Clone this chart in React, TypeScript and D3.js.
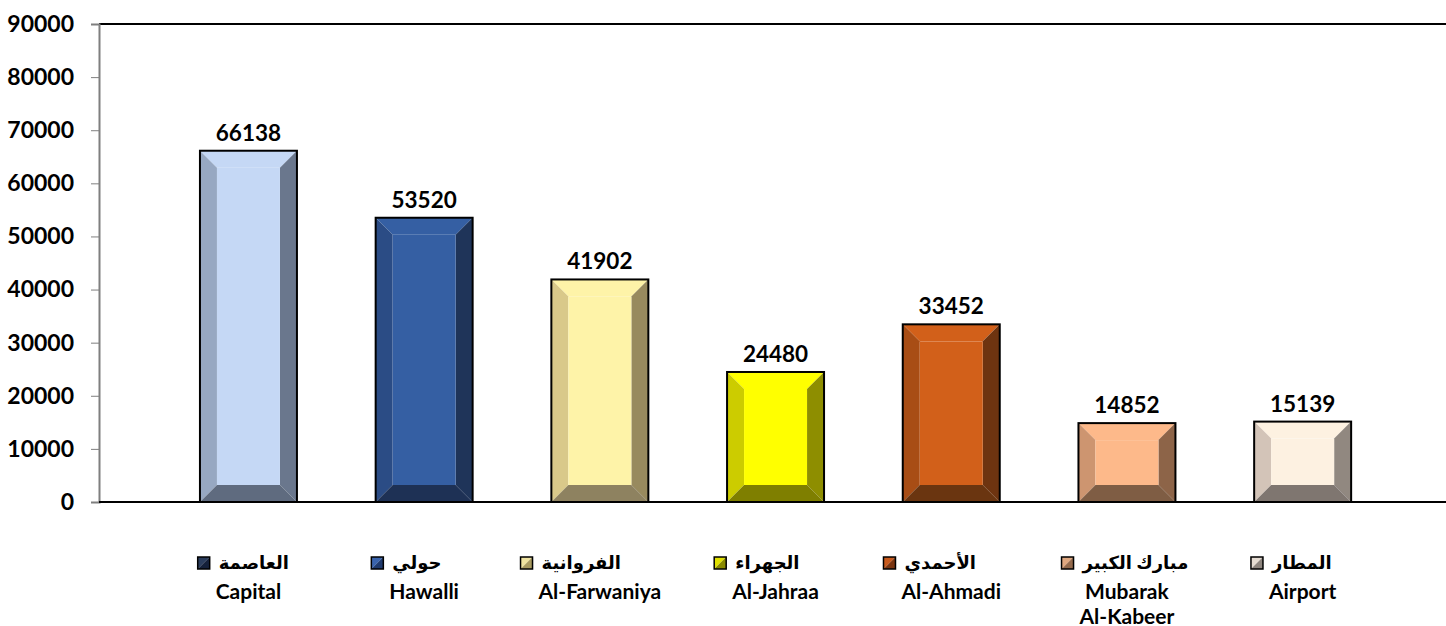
import { useRef, useEffect } from 'react';
import * as d3 from 'd3';

const categoriesEn = [['Capital'], ['Hawalli'], ['Al-Farwaniya'], ['Al-Jahraa'], ['Al-Ahmadi'], ['Mubarak', 'Al-Kabeer'], ['Airport']];
const categoriesAr = ['العاصمة', 'حولي', 'الفروانية', 'الجهراء', 'الأحمدي', 'مبارك الكبير', 'المطار'];
const values = [66138, 53520, 41902, 24480, 33452, 14852, 15139];
const yTicks = [0, 10000, 20000, 30000, 40000, 50000, 60000, 70000, 80000, 90000];

// face, left bevel, right bevel, bottom bevel
const shades = [
  ['#c5d8f5', '#97a8c2', '#6a778d', '#5f6b7f'],
  ['#355fa3', '#2b4c85', '#1f3459', '#1e3155'],
  ['#fef3a8', '#d9c98a', '#988a5e', '#8e8260'],
  ['#ffff00', '#cccc00', '#8e8e00', '#7f7f00'],
  ['#d2601a', '#a84d15', '#6e3410', '#6a3510'],
  ['#fdb98a', '#cd9570', '#8d6448', '#7f5d44'],
  ['#fdf1e1', '#d3c4b8', '#918880', '#7f7670'],
];
const legendShades = [
  ['#2a3c5c', '#14203a'],
  ['#3a64ad', '#1f3a6e'],
  ['#efe3a0', '#a89a60'],
  ['#e0e000', '#8a8a00'],
  ['#c85a1c', '#7a3510'],
  ['#e0a880', '#946a4c'],
  ['#e6dcd2', '#8e857e'],
];

const W = 1446;
const H = 626;
const FONT = "Lato, 'DejaVu Sans', sans-serif";

export default function App() {
  const svgRef = useRef<SVGSVGElement>(null);

  useEffect(() => {
    if (!svgRef.current) return;
    const svg = d3.select(svgRef.current);
    svg.selectAll('*').remove();

    const left = 99;
    const top = 24;
    const bottom = 502;

    const y = d3.scaleLinear().domain([0, 90000]).range([bottom, top]);
    const x = d3
      .scaleBand()
      .domain(categoriesAr)
      .range([160.6, 160.6 + 7 * 175.7])
      .paddingInner(0.448)
      .paddingOuter(0.224);

    // top border of plot
    svg.append('line')
      .attr('x1', left).attr('x2', W).attr('y1', top).attr('y2', top)
      .attr('stroke', '#000').attr('stroke-width', 2);

    // y axis
    const yAxis = svg.append('g')
      .attr('transform', `translate(${left},0)`)
      .call(d3.axisLeft(y).tickValues(yTicks).tickSize(8).tickPadding(17).tickFormat((d) => String(d)));
    yAxis.select('.domain').attr('stroke', '#7f7f7f').attr('stroke-width', 2);
    yAxis.selectAll('.tick line').attr('stroke', '#7f7f7f').attr('stroke-width', 1);
    yAxis.selectAll('.tick text')
      .attr('fill', '#000')
      .style('font-family', FONT)
      .style('font-size', '23px')
      .style('font-weight', 'bold');

    // bars
    const b = 17;
    const bars = svg.append('g');
    values.forEach((v, i) => {
      const x0 = x(categoriesAr[i]) as number;
      const x1 = x0 + x.bandwidth();
      const y0 = y(v);
      const y1 = y(0);
      const bb = Math.min(b, (y1 - y0) / 2);
      const [face, lft, rgt, bot] = shades[i];
      const g = bars.append('g');
      const poly = (pts: number[][], fill: string) =>
        g.append('polygon').attr('points', pts.map((p) => p.join(',')).join(' ')).attr('fill', fill);
      poly([[x0, y0], [x1, y0], [x1 - b, y0 + bb], [x0 + b, y0 + bb]], face);
      poly([[x0, y0], [x0 + b, y0 + bb], [x0 + b, y1 - bb], [x0, y1]], lft);
      poly([[x1, y0], [x1, y1], [x1 - b, y1 - bb], [x1 - b, y0 + bb]], rgt);
      poly([[x0, y1], [x1, y1], [x1 - b, y1 - bb], [x0 + b, y1 - bb]], bot);
      g.append('rect')
        .attr('x', x0 + b).attr('y', y0 + bb)
        .attr('width', x1 - x0 - 2 * b).attr('height', y1 - y0 - 2 * bb)
        .attr('fill', face);
      g.append('rect')
        .attr('x', x0).attr('y', y0).attr('width', x1 - x0).attr('height', y1 - y0)
        .attr('fill', 'none').attr('stroke', '#000').attr('stroke-width', 2);

      svg.append('text')
        .attr('x', x0 + x.bandwidth() / 2)
        .attr('y', y0 - 10)
        .attr('text-anchor', 'middle')
        .style('font-family', FONT)
        .style('font-size', '22.5px')
        .style('font-weight', 'bold')
        .text(String(v));
    });

    // baseline
    svg.append('line')
      .attr('x1', left).attr('x2', W).attr('y1', bottom).attr('y2', bottom)
      .attr('stroke', '#000').attr('stroke-width', 2);

    // legend
    const legend = svg.append('g');
    categoriesAr.forEach((ar, i) => {
      const cx = (x(ar) as number) + x.bandwidth() / 2;
      const lines = categoriesEn[i];
      let minLeft = Infinity;
      lines.forEach((ln, j) => {
        const t = legend.append('text')
          .attr('x', cx)
          .attr('y', 599 + j * 25)
          .attr('text-anchor', 'middle')
          .style('font-family', FONT)
          .style('font-size', '21px')
          .style('font-weight', 'bold')
          .text(ln);
        const w = (t.node() as SVGTextElement).getComputedTextLength();
        minLeft = Math.min(minLeft, cx - w / 2);
      });
      const mx = minLeft - 18;
      const ms = 12;
      const my = 557;
      const [l1, l2] = legendShades[i];
      legend.append('polygon')
        .attr('points', `${mx},${my} ${mx + ms},${my} ${mx},${my + ms}`)
        .attr('fill', l1);
      legend.append('polygon')
        .attr('points', `${mx + ms},${my} ${mx + ms},${my + ms} ${mx},${my + ms}`)
        .attr('fill', l2);
      legend.append('rect')
        .attr('x', mx).attr('y', my).attr('width', ms).attr('height', ms)
        .attr('fill', 'none').attr('stroke', '#000').attr('stroke-width', 1.5);
      legend.append('text')
        .attr('x', mx + ms + 9)
        .attr('y', 569)
        .attr('text-anchor', 'start')
        .style('font-family', FONT)
        .style('font-size', '18px')
        .style('font-weight', 'bold')
        .text(ar);
    });
  }, []);

  return (
    <svg
      ref={svgRef}
      width={W}
      height={H}
      style={{ position: 'absolute', left: 0, top: 0, background: '#fff' }}
    />
  );
}
